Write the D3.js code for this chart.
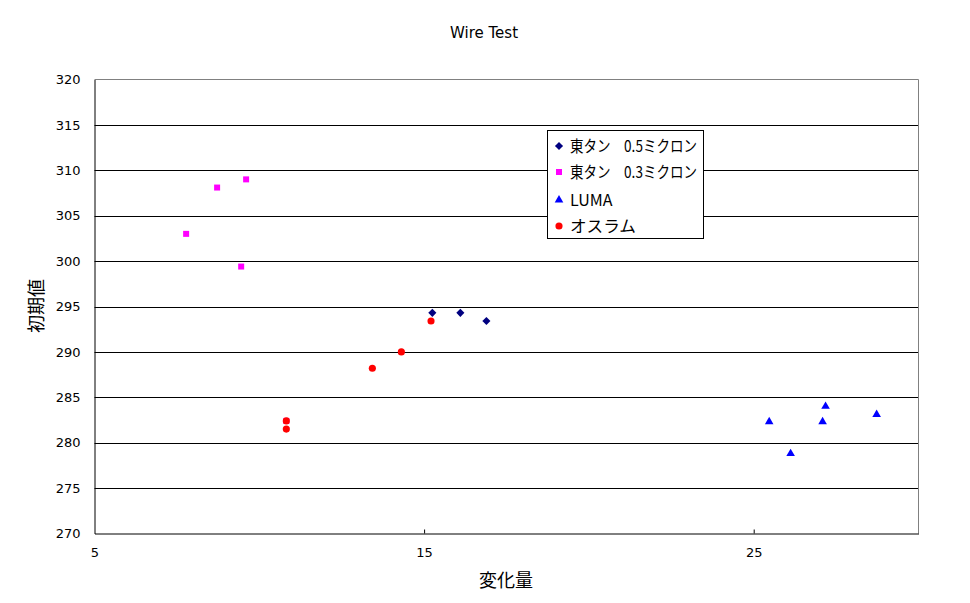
<!DOCTYPE html>
<html><head><meta charset="utf-8">
<script src="https://cdn.jsdelivr.net/npm/d3@7"></script>
<style>body{margin:0;background:#fff}svg{display:block}</style>
</head><body>
<svg id="c" width="970" height="603"></svg>
<script>
const seriesNames = ["東タン　0.5ミクロン", "東タン　0.3ミクロン", "LUMA", "オスラム"];
const seriesColors = ["#000080", "#FF00FF", "#0000FF", "#FF0000"];
const seriesShapes = ["diamond", "square", "triangle", "circle"];
const x05 = [15.25, 16.10, 16.89];
const y05 = [294.3, 294.3, 293.4];
const x03 = [7.78, 8.72, 9.60, 9.45, 10.82];
const y03 = [303.0, 308.1, 309.0, 299.4, 282.4];
const xLuma = [25.47, 26.12, 27.09, 27.18, 28.73];
const yLuma = [282.3, 278.8, 282.3, 284.0, 283.1];
const xOsram = [10.82, 10.82, 13.43, 14.31, 15.21];
const yOsram = [282.4, 281.5, 288.2, 290.0, 293.4];
const xTicks = [5, 15, 25];
const yTicks = [270, 275, 280, 285, 290, 295, 300, 305, 310, 315, 320];

const seriesX = [x05, x03, xLuma, xOsram];
const seriesY = [y05, y03, yLuma, yOsram];

const CJK = "'Noto Sans CJK JP',sans-serif";
const LAT = "'DejaVu Sans',sans-serif";

const svg = d3.select("#c");
const L = 94.5, R = 918.5, T = 79.5, B = 533.5;
const x = d3.scaleLinear().domain([5, 30]).range([L, R]);
const y = d3.scaleLinear().domain([270, 320]).range([B, T]);

// gridlines
svg.append("g").selectAll("line").data(yTicks.filter(v => v > 270 && v < 320)).join("line")
  .attr("x1", L).attr("x2", R).attr("y1", d => Math.round(y(d)) + 0.5).attr("y2", d => Math.round(y(d)) + 0.5)
  .attr("stroke", "#000").attr("stroke-width", 1);
// gray border top/right
svg.append("path").attr("d", `M${L},${T}H${R}V${B}`).attr("fill", "none").attr("stroke", "#808080");

// y axis
const yAxis = d3.axisLeft(y).tickValues(yTicks).tickSize(0).tickPadding(14);
const gy = svg.append("g").attr("transform", `translate(${L},0)`).call(yAxis);
gy.select(".domain").attr("stroke", "#000");
gy.selectAll("text").style("font-size", "13px").style("font-family", LAT).attr("fill", "#000");

// x axis
const xAxis = d3.axisBottom(x).tickValues(xTicks).tickSizeInner(-4).tickSizeOuter(0).tickPadding(14);
const gx = svg.append("g").attr("transform", `translate(0,${B})`).call(xAxis);
gx.select(".domain").attr("stroke", "#000");
gx.selectAll(".tick line").attr("stroke", "#000").filter(d => d === 5).remove();
gx.selectAll("text").style("font-size", "13px").style("font-family", LAT).attr("fill", "#000");

// titles
svg.append("text").attr("x", 484).attr("y", 38).attr("text-anchor", "middle")
  .style("font-size", "15px").style("font-family", LAT).text("Wire Test");
svg.append("text").attr("x", 506).attr("y", 587).attr("text-anchor", "middle")
  .style("font-size", "18px").style("font-family", CJK).text("変化量");
svg.append("text").attr("transform", "translate(43,306) rotate(-90)").attr("text-anchor", "middle")
  .style("font-size", "18px").style("font-family", CJK).text("初期値");

function sym(shape) {
  const t = {diamond: d3.symbolDiamond2, square: d3.symbolSquare, triangle: d3.symbolTriangle, circle: d3.symbolCircle}[shape];
  const s = {diamond: 42, square: 36, triangle: 32, circle: 40}[shape];
  return d3.symbol().type(t).size(s)();
}

seriesNames.forEach((name, i) => {
  const pts = seriesX[i].map((v, j) => [v, seriesY[i][j]]);
  svg.append("g").selectAll("path").data(pts).join("path")
    .attr("d", sym(seriesShapes[i]))
    .attr("transform", d => `translate(${x(d[0])},${y(d[1])})`)
    .attr("fill", seriesColors[i]);
});

// legend
const lg = svg.append("g");
lg.append("rect").attr("x", 547.5).attr("y", 130.5).attr("width", 156).attr("height", 108)
  .attr("fill", "#fff").attr("stroke", "#000");
const ly = [146, 172, 200, 226];
const lw = [127, 127, null, 66];
seriesNames.forEach((name, i) => {
  lg.append("path").attr("d", sym(seriesShapes[i])).attr("transform", `translate(559,${ly[i]})`).attr("fill", seriesColors[i]);
  const t = lg.append("text").attr("x", 570).attr("y", ly[i] + 6)
    .style("font-size", "16px").style("font-family", CJK).text(name);
  if (lw[i]) t.attr("textLength", lw[i]).attr("lengthAdjust", "spacingAndGlyphs");
});
</script>
</body></html>
